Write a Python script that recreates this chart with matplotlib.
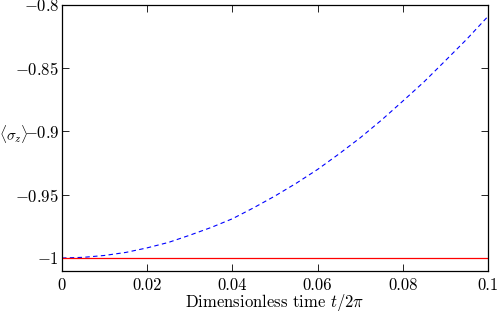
import numpy as np
import matplotlib
matplotlib.use("Agg")
import matplotlib.pyplot as plt

t = [0.0, 0.005, 0.01, 0.015, 0.02, 0.025, 0.03, 0.035, 0.04, 0.045, 0.05,
     0.055, 0.06, 0.065, 0.07, 0.075, 0.08, 0.085, 0.09, 0.095, 0.1]
sz_blue = [-1.0, -0.9995, -0.998, -0.9956, -0.992, -0.9877, -0.982, -0.9759, -0.969, -0.9603, -0.951,
           -0.9409, -0.930, -0.9178, -0.905, -0.891, -0.876, -0.8607, -0.844, -0.8271, -0.809]
t_red = [0.0, 0.1]
sz_red = [-1.0, -1.0]

xticks = [0, 0.02, 0.04, 0.06, 0.08, 0.1]
xticklabels = ["0", "0.02", "0.04", "0.06", "0.08", "0.1"]
yticks = [-1, -0.95, -0.9, -0.85, -0.8]
yticklabels = ["$-1$", "$-0.95$", "$-0.9$", "$-0.85$", "$-0.8$"]

plt.rcParams["font.family"] = "cmr10"
plt.rcParams["mathtext.fontset"] = "cm"
plt.rcParams["axes.formatter.use_mathtext"] = True
plt.rcParams["font.size"] = 12

fig = plt.figure(figsize=(5, 3.11), dpi=100)
ax = fig.add_axes([0.124, 0.1286, 0.852, 0.8554])

ax.plot(t, sz_blue, color="#0000ff", lw=0.8, dashes=(4, 3))
ax.plot(t_red, sz_red, color="#ff0000", lw=0.9)

ax.set_xlim(0, 0.1)
ax.set_ylim(-1.0103, -0.8)
ax.set_xticks(xticks)
ax.set_xticklabels(xticklabels)
ax.set_yticks(yticks)
ax.set_yticklabels(yticklabels)
ax.tick_params(direction="in", top=True, right=True, length=5, width=0.6)
ax.tick_params(axis="x", pad=5)
ax.tick_params(axis="y", pad=2)
for s in ax.spines.values():
    s.set_linewidth(0.9)

ax.set_xlabel(r"Dimensionless time $t/2\pi$", fontsize=12, labelpad=-1)
ax.set_ylabel(r"$\langle\sigma_z\rangle$", fontsize=11, rotation=0)
ax.yaxis.set_label_coords(-0.113, 0.475)

fig.savefig("out.png", dpi=100)
